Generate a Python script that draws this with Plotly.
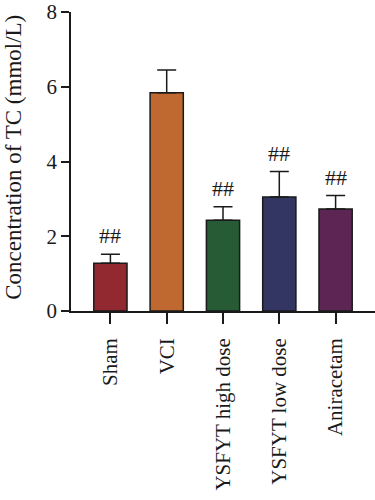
import plotly.graph_objects as go

groups = ["Sham", "VCI", "YSFYT high dose", "YSFYT low dose", "Aniracetam"]
means = [1.28, 5.84, 2.43, 3.05, 2.73]
errors = [0.24, 0.61, 0.36, 0.68, 0.36]
sig_labels = ["##", "", "##", "##", "##"]
colors = ["#922931", "#bf6931", "#265b35", "#333562", "#5d2553"]
y_ticks = [0, 2, 4, 6, 8]

FONT = "Liberation Serif"

fig = go.Figure()
fig.add_trace(go.Bar(
    x=groups, y=means,
    marker=dict(color=colors, line=dict(color="#1a1a1a", width=1.5)),
    error_y=dict(type="data", array=errors, arrayminus=[0] * len(errors),
                 symmetric=False, color="#1a1a1a", thickness=1.5, width=9.5),
    width=0.59,
    showlegend=False,
    hoverinfo="skip",
))

for g, m, e, s in zip(groups, means, errors, sig_labels):
    if s:
        fig.add_annotation(x=g, y=m + e, text=s, showarrow=False,
                           xanchor="center", yanchor="bottom", yshift=4,
                           font=dict(family=FONT, size=22, color="#1a1a1a"))

fig.add_annotation(xref="paper", yref="paper", x=-0.19, y=0.513,
                   text="Concentration of TC (mmol/L)", textangle=-90,
                   showarrow=False, xanchor="center", yanchor="middle",
                   font=dict(family=FONT, size=23, color="#1a1a1a"))

fig.update_layout(
    width=375, height=500,
    margin=dict(l=71, r=0, t=12, b=189, autoexpand=False),
    paper_bgcolor="white", plot_bgcolor="white",
    font=dict(family=FONT, size=22, color="#1a1a1a"),
    xaxis=dict(
        range=[-0.7, 4.7], showline=True, linecolor="#1a1a1a", linewidth=1.5,
        ticks="outside", ticklen=11, tickwidth=1.5, tickcolor="#1a1a1a",
        tickangle=-90, showgrid=False, zeroline=False,
        tickfont=dict(family=FONT, size=21), ticklabelstandoff=6,
    ),
    yaxis=dict(
        range=[0, 8], tickvals=y_ticks, showline=True, linecolor="#1a1a1a",
        linewidth=1.5, ticks="outside", ticklen=8, tickwidth=1.5,
        tickcolor="#1a1a1a", showgrid=False, zeroline=False,
        tickfont=dict(family=FONT, size=21), ticklabeloverflow="allow",
    ),
)

fig.write_html("out.html", config={"displayModeBar": False},
               post_script="document.body.style.margin='0';document.body.style.overflow='hidden';")
